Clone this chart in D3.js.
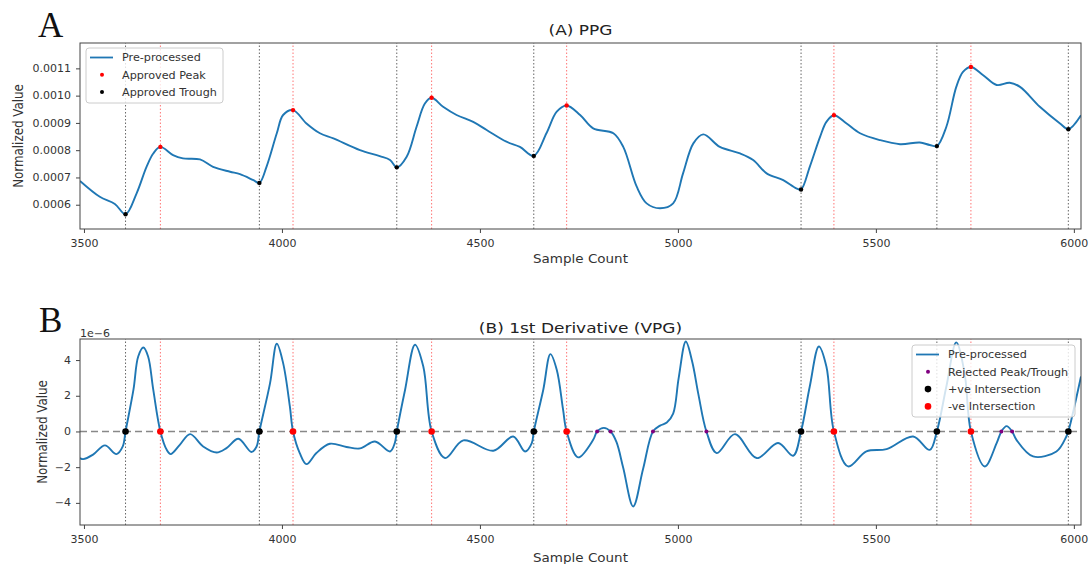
<!DOCTYPE html>
<html>
<head>
<meta charset="utf-8">
<script src="https://cdn.jsdelivr.net/npm/d3@7"></script>
<style>
  body { margin: 0; background: #fff; }
  svg { display: block; font-family: "DejaVu Sans", sans-serif; }
</style>
</head>
<body>
<svg id="chart" width="1091" height="564"></svg>
<script>
// ---- data ----
var xTicks = [3500, 4000, 4500, 5000, 5500, 6000];
var ppgTicks = [0.0006, 0.0007, 0.0008, 0.0009, 0.0010, 0.0011];
var vpgTicks = [-4, -2, 0, 2, 4];

var ppgX = [3490, 3540, 3578, 3605, 3633, 3658, 3675, 3693, 3725, 3750, 3793, 3826, 3869, 3894, 3928, 3943,
  3961, 3987, 4003, 4028, 4062, 4096, 4130, 4197, 4247, 4273, 4290, 4315, 4340, 4361, 4378, 4407, 4441,
  4483, 4517, 4567, 4601, 4636, 4668, 4694, 4719, 4753, 4786, 4837, 4862, 4896, 4921, 4955, 4988, 5013,
  5039, 5064, 5106, 5157, 5190, 5224, 5266, 5299, 5311, 5333, 5359, 5375, 5394, 5426, 5460, 5510, 5561,
  5611, 5636, 5654, 5678, 5703, 5720, 5740, 5771, 5805, 5838, 5864, 5914, 5965, 5986, 6018];
var ppgY = [0.000687, 0.000629, 0.000603, 0.000565, 0.000642, 0.000739, 0.000788, 0.000812, 0.000782,
  0.000770, 0.000766, 0.000739, 0.000721, 0.000712, 0.000690, 0.000680, 0.000739, 0.000862, 0.000929,
  0.000947, 0.000898, 0.000862, 0.000843, 0.000800, 0.000778, 0.000764, 0.000737, 0.000776, 0.000886,
  0.000971, 0.000992, 0.000959, 0.000929, 0.000904, 0.000874, 0.000831, 0.000812, 0.000779, 0.000862,
  0.000941, 0.000964, 0.000929, 0.000880, 0.000862, 0.000812, 0.000666, 0.000605, 0.000587, 0.000605,
  0.000715, 0.000825, 0.000858, 0.000812, 0.000788, 0.000764, 0.000715, 0.000690, 0.000660, 0.000656,
  0.000739, 0.000849, 0.000904, 0.000928, 0.000898, 0.000862, 0.000837, 0.000822, 0.000828, 0.000819,
  0.000815, 0.000886, 0.001032, 0.001087, 0.001105, 0.001075, 0.001039, 0.001047, 0.001032, 0.000959,
  0.000898, 0.000877, 0.000928];

var troughX = [3605, 3943, 4290, 4636, 5311, 5654, 5986];
var troughY = [0.000565, 0.000680, 0.000737, 0.000779, 0.000656, 0.000815, 0.000877];
var peakX = [3693, 4028, 4378, 4719, 5394, 5740];
var peakY = [0.000812, 0.000947, 0.000992, 0.000964, 0.000928, 0.001105];

// 1st derivative, in units of 1e-6
var vpgX = [3490, 3498, 3523, 3553, 3582, 3598, 3605, 3625, 3637, 3650, 3662, 3675, 3693, 3709, 3719,
  3742, 3768, 3801, 3835, 3860, 3890, 3923, 3936, 3943, 3970, 3987, 4003, 4020, 4028, 4045, 4062, 4087,
  4121, 4163, 4197, 4235, 4273, 4285, 4290, 4311, 4336, 4357, 4378, 4412, 4458, 4534, 4584, 4614, 4631,
  4636, 4660, 4678, 4694, 4710, 4719, 4748, 4786, 4796, 4813, 4830, 4845, 4862, 4887, 4912, 4937, 4955,
  4972, 4988, 5002, 5020, 5036, 5052, 5072, 5098, 5144, 5199, 5253, 5291, 5311, 5333, 5356, 5375, 5394,
  5430, 5476, 5527, 5594, 5636, 5654, 5678, 5703, 5724, 5740, 5775, 5805, 5817, 5830, 5844, 5855, 5897,
  5956, 5981, 5986, 6018];
var vpgY = [-1.49, -1.55, -1.30, -0.78, -1.27, -0.84, 0, 2.34, 4.20, 4.70, 4.20, 2.34, 0, -1.03, -1.27,
  -0.75, -0.15, -0.84, -1.18, -0.93, -0.41, -1.15, -0.84, 0, 2.71, 4.91, 3.83, 1.40, 0, -1.21, -1.83, -1.21,
  -0.69, -0.87, -0.95, -0.56, -1.12, -0.65, 0, 2.34, 4.86, 3.64, 0, -1.49, -0.50, -1.08, -0.28, -1.12, -0.65,
  0, 2.34, 4.33, 3.46, 1.22, 0, -1.45, -0.47, 0, 0.20, 0, -0.60, -2.05, -4.20, -2.10, 0, 0.33,
  0.50, 1.00, 3.00, 5.04, 3.92, 2.05, 0, -1.21, -0.15, -1.49, -0.65, -1.36, 0, 2.52, 4.76, 3.64, 0,
  -1.96, -1.12, -0.99, -0.28, -1.03, 0, 2.52, 4.99, 3.27, 0, -1.96, -0.65, 0, 0.30, 0, -0.47, -1.40,
  -1.12, -0.28, 0, 3.08];

var rejectedX = [4290, 4796, 4830, 4937, 5072, 5311, 5817, 5844];
var posCrossX = troughX;
var negCrossX = peakX;

// ---- layout ----
var svg = d3.select('#chart');
var blue = '#1f77b4';
var left = 80, right = 1081;
var squash = 0.88;   // the figure text is a little flattened vertically
var x = d3.scaleLinear().domain([3490, 6018]).range([left, right]);

function zip(xs, ys) { return xs.map(function(v, i) { return [v, ys[i]]; }); }

function txt(g, tx, ty, str, size, k, anchor) {
  return g.append('text')
    .attr('transform', 'translate(' + tx + ',' + ty + ') scale(1,' + k + ')')
    .attr('text-anchor', anchor || 'start')
    .style('font-size', size + 'px').attr('fill', '#333').text(str);
}

function drawFrame(g, y, top, bottom, yTicks, yFmt, clipId) {
  g.append('clipPath').attr('id', clipId)
    .append('rect').attr('x', left).attr('y', top).attr('width', right - left).attr('height', bottom - top);

  var xa = g.append('g').attr('transform', 'translate(0,' + bottom + ')')
    .call(d3.axisBottom(x).tickValues(xTicks).tickSize(4).tickFormat(d3.format('d')));
  xa.selectAll('text').attr('y', 0).attr('dy', 0).attr('transform', 'translate(0,17.5) scale(1,' + squash + ')');
  var ya = g.append('g').attr('transform', 'translate(' + left + ',0)')
    .call(d3.axisLeft(y).tickValues(yTicks).tickSize(4).tickPadding(5).tickFormat(yFmt));
  ya.selectAll('text').attr('transform', 'scale(1,' + squash + ')');
  [xa, ya].forEach(function(a) {
    a.select('.domain').remove();
    a.selectAll('line').attr('stroke', '#444');
    a.selectAll('text').attr('fill', '#333').style('font-size', '11px').style('font-family', 'DejaVu Sans');
  });
}

function vlines(g, y, xs, color, clipId) {
  g.append('g').attr('clip-path', 'url(#' + clipId + ')')
    .selectAll('line').data(xs).enter().append('line')
    .attr('x1', function(d) { return x(d); }).attr('x2', function(d) { return x(d); })
    .attr('y1', y.range()[0]).attr('y2', y.range()[1])
    .attr('stroke', color).attr('stroke-width', 1).attr('stroke-dasharray', '1.5,2');
}

function border(g, top, bottom) {
  g.append('rect').attr('x', left).attr('y', top).attr('width', right - left).attr('height', bottom - top)
    .attr('fill', 'none').attr('stroke', '#444').attr('stroke-width', 1);
}

function labels(g, title, titleY, xlabY, ylabX, midY) {
  txt(g, (left + right) / 2, titleY, title, 17, 0.78, 'middle').attr('fill', '#222');
  txt(g, (left + right) / 2, xlabY, 'Sample Count', 13.5, squash, 'middle');
  g.append('text').attr('transform', 'translate(' + ylabX + ',' + midY + ') rotate(-90) scale(' + squash + ',1)')
    .attr('text-anchor', 'middle').attr('dominant-baseline', 'central')
    .style('font-size', '13.5px').attr('fill', '#333').text('Normalized Value');
}

function legend(g, bx, by, bw, bh, items) {
  var lg = g.append('g');
  lg.append('rect').attr('x', bx).attr('y', by).attr('width', bw).attr('height', bh).attr('rx', 3)
    .attr('fill', '#fff').attr('fill-opacity', 0.8).attr('stroke', '#ccc');
  items.forEach(function(it, i) {
    var cy = by + 9.5 + i * 17.3;
    if (it.type === 'line') {
      lg.append('line').attr('x1', bx + 4).attr('x2', bx + 27).attr('y1', cy).attr('y2', cy)
        .attr('stroke', blue).attr('stroke-width', 1.8);
    } else {
      lg.append('circle').attr('cx', bx + 16).attr('cy', cy).attr('r', it.r).attr('fill', it.color);
    }
    txt(lg, bx + 36, cy, it.label, 11.2, squash).attr('dominant-baseline', 'central');
  });
}

function curve(g, xs, ys, y, clipId) {
  g.append('path').datum(zip(xs, ys)).attr('clip-path', 'url(#' + clipId + ')')
    .attr('fill', 'none').attr('stroke', blue).attr('stroke-width', 1.9)
    .attr('d', d3.line().x(function(d) { return x(d[0]); }).y(function(d) { return y(d[1]); })
      .curve(d3.curveCatmullRom.alpha(0.5)));
}

// ---- panel A: PPG ----
var topA = 43, botA = 229;
var yA = d3.scaleLinear().domain([0.000511, 0.001193]).range([botA, topA]);
var gA = svg.append('g');
drawFrame(gA, yA, topA, botA, ppgTicks, d3.format('.4f'), 'clipA');
vlines(gA, yA, troughX, 'rgba(0,0,0,0.6)', 'clipA');
vlines(gA, yA, peakX, 'rgba(255,0,0,0.55)', 'clipA');
curve(gA, ppgX, ppgY, yA, 'clipA');
gA.selectAll('.pk').data(zip(peakX, peakY)).enter().append('circle')
  .attr('cx', function(d) { return x(d[0]); }).attr('cy', function(d) { return yA(d[1]); })
  .attr('r', 2.2).attr('fill', 'red');
gA.selectAll('.tr').data(zip(troughX, troughY)).enter().append('circle')
  .attr('cx', function(d) { return x(d[0]); }).attr('cy', function(d) { return yA(d[1]); })
  .attr('r', 2.2).attr('fill', 'black');
border(gA, topA, botA);
labels(gA, '(A) PPG', 34.5, 262.5, 18.5, (topA + botA) / 2);
legend(gA, 86, 48, 137, 55, [
  { type: 'line', label: 'Pre-processed' },
  { type: 'dot', r: 2, color: 'red', label: 'Approved Peak' },
  { type: 'dot', r: 2, color: 'black', label: 'Approved Trough' }
]);

// ---- panel B: VPG ----
var topB = 339, botB = 525;
var yB = d3.scaleLinear().domain([-5.24, 5.18]).range([botB, topB]);
var gB = svg.append('g');
drawFrame(gB, yB, topB, botB, vpgTicks, d3.format('d'), 'clipB');
vlines(gB, yB, troughX, 'rgba(0,0,0,0.6)', 'clipB');
vlines(gB, yB, peakX, 'rgba(255,0,0,0.55)', 'clipB');
curve(gB, vpgX, vpgY, yB, 'clipB');
gB.append('line').attr('x1', left).attr('x2', right).attr('y1', yB(0)).attr('y2', yB(0))
  .attr('stroke', '#888').attr('stroke-width', 1.5).attr('stroke-dasharray', '7,4');
gB.selectAll('.rj').data(rejectedX).enter().append('circle')
  .attr('cx', function(d) { return x(d); }).attr('cy', yB(0)).attr('r', 2).attr('fill', 'purple');
gB.selectAll('.pc').data(posCrossX).enter().append('circle')
  .attr('cx', function(d) { return x(d); }).attr('cy', yB(0)).attr('r', 3.3).attr('fill', 'black');
gB.selectAll('.nc').data(negCrossX).enter().append('circle')
  .attr('cx', function(d) { return x(d); }).attr('cy', yB(0)).attr('r', 3.3).attr('fill', 'red');
border(gB, topB, botB);
labels(gB, '(B) 1st Derivative (VPG)', 333, 562, 42, (topB + botB) / 2);
txt(gB, left, 336.5, '1e\u22126', 11, squash);
legend(gB, 912, 345, 163, 72, [
  { type: 'line', label: 'Pre-processed' },
  { type: 'dot', r: 2, color: 'purple', label: 'Rejected Peak/Trough' },
  { type: 'dot', r: 3.3, color: 'black', label: '+ve Intersection' },
  { type: 'dot', r: 3.3, color: 'red', label: '-ve Intersection' }
]);

// panel letters
svg.append('text').attr('x', 38).attr('y', 37).style('font-family', '"Liberation Serif", "DejaVu Serif", serif')
  .style('font-size', '35px').attr('fill', '#111').text('A');
svg.append('text').attr('x', 39).attr('y', 332).style('font-family', '"Liberation Serif", "DejaVu Serif", serif')
  .style('font-size', '35px').attr('fill', '#111').text('B');
</script>
</body>
</html>
